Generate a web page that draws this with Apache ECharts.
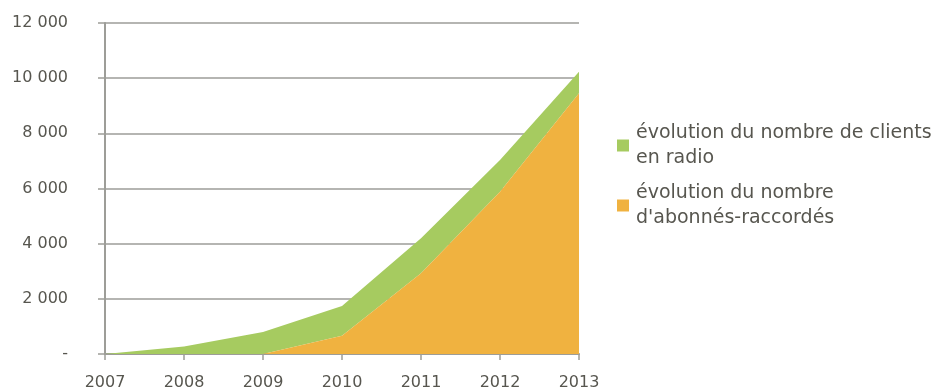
<!DOCTYPE html>
<html>
<head>
<meta charset="utf-8">
<script src="https://cdn.jsdelivr.net/npm/echarts@6/dist/echarts.min.js"></script>
<style>
  html, body { margin: 0; padding: 0; background: #fff; }
  #chart { width: 933px; height: 389px; }
</style>
</head>
<body>
<div id="chart"></div>
<script>
// Years on the horizontal axis
const years = ['2007', '2008', '2009', '2010', '2011', '2012', '2013'];

// Subscribers connected (bottom layer of the stack)
const abonnesRaccordes = [0, 0, 0, 660, 2930, 5880, 9450];

// Radio customers (stacked on top of the subscribers)
const clientsRadio = [0, 275, 800, 1080, 1270, 1150, 780];

// Vertical axis ticks
const yTicks = [0, 2000, 4000, 6000, 8000, 10000, 12000];

const nameRadio = 'évolution du nombre de clients en radio';
const nameAbonnes = "évolution du nombre d'abonnés-raccordés";
const legendText = {};
legendText[nameRadio] = 'évolution du nombre de clients\nen radio';
legendText[nameAbonnes] = "évolution du nombre\nd'abonnés-raccordés";

const textColor = '#57564f';
const lineColor = '#9d9d98';
const fontFamily = '"DejaVu Sans", Verdana, sans-serif';
const lineH = 25.7;

// One legend block per series; the top padding lifts the icon onto the first text line
function legendFor(name, iconCenterY) {
  return {
    show: true,
    data: [name],
    orient: 'vertical',
    left: 617,
    top: iconCenterY - 1.5 * lineH,
    padding: 0,
    itemWidth: 12,
    itemHeight: 12,
    icon: 'rect',
    formatter: n => legendText[n],
    textStyle: {
      color: textColor,
      fontFamily: fontFamily,
      fontSize: 19,
      lineHeight: lineH,
      padding: [lineH, 0, 0, 2]
    },
    selectedMode: false
  };
}

const chart = echarts.init(document.getElementById('chart'), null, { renderer: 'canvas' });
chart.setOption({
  animation: false,
  backgroundColor: '#ffffff',
  textStyle: { fontFamily: fontFamily },
  grid: { left: 105, right: 354, top: 23, bottom: 35, containLabel: false, outerBoundsMode: 'none' },
  legend: [legendFor(nameRadio, 145.5), legendFor(nameAbonnes, 205.5)],
  xAxis: {
    type: 'category',
    data: years,
    boundaryGap: false,
    axisLine: { show: true, lineStyle: { color: lineColor, width: 2 } },
    axisTick: { show: true, alignWithLabel: true, length: 6, lineStyle: { color: lineColor, width: 1.5 } },
    axisLabel: { color: textColor, fontSize: 16, fontFamily: fontFamily, margin: 21 },
    splitLine: { show: false }
  },
  yAxis: {
    type: 'value',
    min: yTicks[0],
    max: yTicks[yTicks.length - 1],
    interval: yTicks[1] - yTicks[0],
    axisLine: { show: true, lineStyle: { color: lineColor, width: 2 } },
    axisTick: { show: true, length: 7, lineStyle: { color: lineColor, width: 1.5 } },
    axisLabel: {
      color: textColor,
      fontSize: 16,
      fontFamily: fontFamily,
      margin: 37,
      formatter: v => v === 0 ? '-' : String(v).replace(/\B(?=(\d{3})+(?!\d))/g, ' ')
    },
    splitLine: { show: true, lineStyle: { color: lineColor, width: 1.5 } }
  },
  series: [
    {
      name: nameAbonnes,
      type: 'line',
      stack: 'total',
      data: abonnesRaccordes,
      symbol: 'none',
      lineStyle: { width: 0 },
      itemStyle: { color: '#f0b240' },
      areaStyle: { color: '#f0b240', opacity: 1 },
      z: 3
    },
    {
      name: nameRadio,
      type: 'line',
      stack: 'total',
      data: clientsRadio,
      symbol: 'none',
      lineStyle: { width: 0 },
      itemStyle: { color: '#a6cb60' },
      areaStyle: { color: '#a6cb60', opacity: 1 },
      z: 2
    }
  ]
});
</script>
</body>
</html>
